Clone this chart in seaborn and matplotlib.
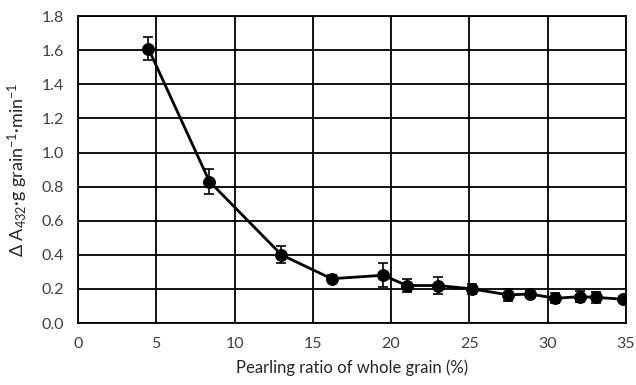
import matplotlib
matplotlib.use("Agg")
import matplotlib.pyplot as plt
import seaborn as sns
import pandas as pd

pearling_ratio = [4.5, 8.4, 13.0, 16.2, 19.5, 21.0, 23.0, 25.2, 27.5, 28.9, 30.5, 32.1, 33.1, 34.8]
delta_a432 = [1.61, 0.83, 0.40, 0.26, 0.28, 0.22, 0.22, 0.20, 0.165, 0.17, 0.145, 0.155, 0.15, 0.14]
error = [0.07, 0.075, 0.05, 0.02, 0.07, 0.04, 0.05, 0.03, 0.035, 0.02, 0.03, 0.03, 0.03, 0.01]
x_ticks = [0, 5, 10, 15, 20, 25, 30, 35]
y_ticks = [0.0, 0.2, 0.4, 0.6, 0.8, 1.0, 1.2, 1.4, 1.6, 1.8]

df = pd.DataFrame({"x": pearling_ratio, "y": delta_a432, "err": error})

sns.set_theme(style="white")
plt.rcParams['font.family'] = ['Lato', 'DejaVu Sans']
plt.rcParams['mathtext.fontset'] = 'custom'
plt.rcParams['mathtext.rm'] = 'Lato'
plt.rcParams['mathtext.it'] = 'Lato'
plt.rcParams['mathtext.default'] = 'regular'

fig = plt.figure(figsize=(6.36, 3.85), dpi=100)
ax = fig.add_axes([0.1226, 0.161, 0.8614, 0.797])

ax.errorbar(df["x"], df["y"], yerr=df["err"], fmt="none", ecolor="black",
            elinewidth=1.2, capsize=3.5, capthick=1.2, zorder=3)
sns.lineplot(data=df, x="x", y="y", ax=ax, color="black", linewidth=2,
             marker="o", markersize=8.5, markeredgecolor="black", zorder=4)

ax.set_xlim(0, 35)
ax.set_ylim(0, 1.8)
ax.set_xticks(x_ticks)
ax.set_yticks(y_ticks)
ax.set_xticklabels([str(t) for t in x_ticks])
ax.set_yticklabels([f"{t:.1f}" for t in y_ticks])
ax.grid(True, color="black", linewidth=1.3)
ax.set_axisbelow(True)
for s in ax.spines.values():
    s.set_color("black")
    s.set_linewidth(1.3)
ax.tick_params(axis="both", length=0, labelsize=11.5, colors="#404040", pad=10)
ax.set_xlabel("Pearling ratio of whole grain (%)", fontsize=12, color="#262626", labelpad=6)
ax.set_ylabel(r"Δ A$_{432}$·g grain$^{-1}$·min$^{-1}$", fontsize=13, color="#262626", labelpad=8)

fig.savefig("out.png", dpi=100)
